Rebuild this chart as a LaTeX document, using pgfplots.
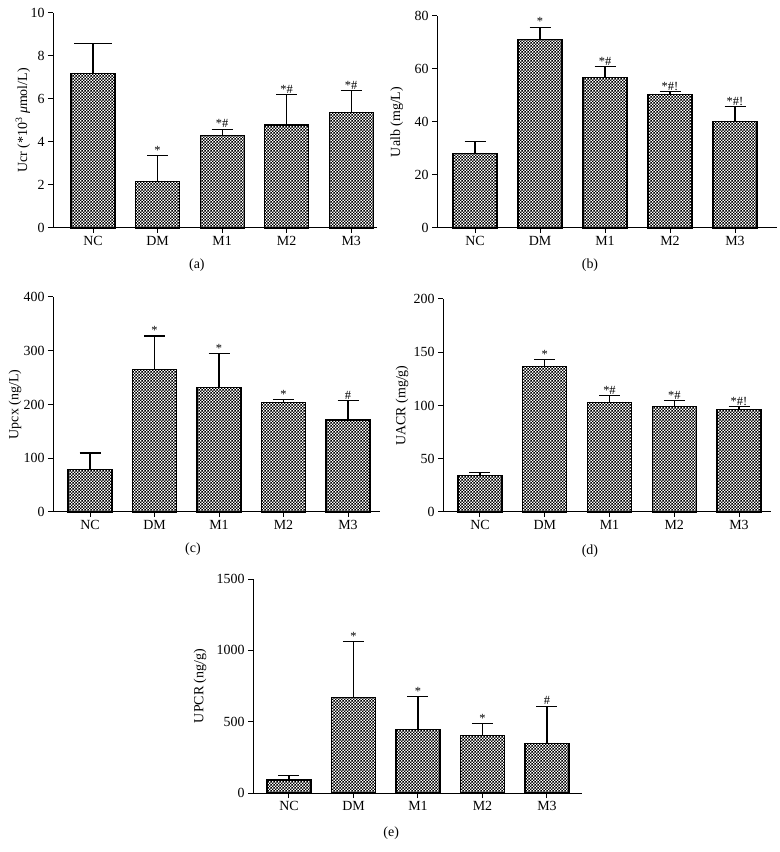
\documentclass[border=0pt]{standalone}
\usepackage{fontspec}
\setmainfont{Liberation Serif}
\usepackage{pgfplots}
\usepackage{pgfplotstable}
\pgfplotsset{compat=1.18}
\usetikzlibrary{patterns}

% fine black/white checkerboard like the original bars
\pgfdeclarepatternformonly{finecheck}{\pgfpointorigin}{\pgfqpoint{3pt}{3pt}}{\pgfqpoint{3pt}{3pt}}{%
  \pgfpathrectangle{\pgfpointorigin}{\pgfqpoint{1.5pt}{1.5pt}}%
  \pgfpathrectangle{\pgfqpoint{1.5pt}{1.5pt}}{\pgfqpoint{1.5pt}{1.5pt}}%
  \pgfusepath{fill}}

% columns: group, mean, upper error, significance mark
\pgfplotstableread{
x y e lab
0 7.18 1.42 -
1 2.17 1.20 *
2 4.29 0.31 *\#
3 4.79 1.43 *\#
4 5.38 1.02 *\#
}\tabA
\pgfplotstableread{
x y e lab
0 28.2 4.6 -
1 71.0 4.8 *
2 56.7 4.1 *\#
3 50.3 1.1 *\#!
4 40.3 5.5 *\#!
}\tabB
\pgfplotstableread{
x y e lab
0 78.8 31.0 -
1 264.8 62.6 *
2 231.3 63.3 *
3 203.4 5.6 *
4 171.2 35.9 \#
}\tabC
\pgfplotstableread{
x y e lab
0 34.2 2.8 -
1 136.7 6.6 *
2 103.1 6.3 *\#
3 99.0 5.5 *\#
4 96.6 2.5 *\#!
}\tabD
\pgfplotstableread{
x y e lab
0 91 33 -
1 669 395 *
2 448 226 *
3 403.5 84 *
4 347.6 261 \#
}\tabE

\tikzset{sublabel/.style={font=\fontsize{14}{16}\selectfont}}

\pgfplotsset{
  panel/.style={
    scale only axis, anchor=south west,
    axis x line=bottom, axis y line=left,
    axis line style={-, line width=1pt, black},
    tick align=outside, major tick length=5bp,
    every tick/.style={line width=1pt, black},
    xtick={0,1,2,3,4}, xticklabels={NC,DM,M1,M2,M3},
    ymin=0,
    tick label style={font=\fontsize{14}{16}\selectfont},
    label style={font=\fontsize{14}{16}\selectfont},
    /pgf/number format/assume math mode=true,
    /pgf/number format/1000 sep={},
    clip=false,
  },
  bars/.style={ybar, bar shift=0pt, bar width=44bp, draw=black, line width=1.1pt,
    pattern=finecheck, pattern color=black,
    error bars/y dir=plus, error bars/y explicit,
    error bars/error bar style={line width=1.1pt, black},
    error bars/error mark options={rotate=90, line width=1.1pt, black, mark size=10.5bp}},
  stars/.style={draw=none, mark=none, nodes near coords, point meta=explicit symbolic,
    skip coords between index={0}{1},
    nodes near coords style={anchor=south, inner sep=1pt, black,
      font=\fontsize{12.5}{12.5}\selectfont}},
}

\begin{document}
\begin{tikzpicture}
\useasboundingbox (0,0) rectangle (780bp,852bp);

% (a)
\begin{axis}[panel, at={(53bp,624bp)}, width=324bp, height=215bp,
  xmin=-0.62, xmax=4.40, ymax=10, ytick={0,2,...,10},
  ylabel={Ucr (*10\textsuperscript{3} \textit{μ}mol/L)},
  ylabel style={at={(axis description cs:-0.093,0.5)}, anchor=center}]
  \addplot[bars, skip coords between index={1}{5},
    error bars/error mark options={rotate=90, line width=1.1pt, black, mark size=19bp}]
    table[x=x, y=y, y error=e] {\tabA};
  \addplot[bars, skip coords between index={0}{1}] table[x=x, y=y, y error=e] {\tabA};
  \addplot[stars] table[x=x, y expr=\thisrow{y}+\thisrow{e}, meta=lab] {\tabA};
  \node[sublabel] at (axis description cs:0.444,-0.172) {(a)};
\end{axis}

% (b)
\begin{axis}[panel, at={(437bp,624bp)}, width=340bp, height=212bp,
  xmin=-0.585, xmax=4.646, ymax=80, ytick={0,20,...,80},
  ylabel={Ualb (mg/L)},
  ylabel style={at={(axis description cs:-0.118,0.5)}, anchor=center}]
  \addplot[bars] table[x=x, y=y, y error=e] {\tabB};
  \addplot[stars] table[x=x, y expr=\thisrow{y}+\thisrow{e}, meta=lab] {\tabB};
  \node[sublabel] at (axis description cs:0.45,-0.175) {(b)};
\end{axis}

% (c)
\begin{axis}[panel, at={(53bp,340bp)}, width=327bp, height=215bp,
  xmin=-0.574, xmax=4.496, ymax=400, ytick={0,100,...,400},
  ylabel={Upcx (ng/L)},
  ylabel style={at={(axis description cs:-0.116,0.5)}, anchor=center}]
  \addplot[bars] table[x=x, y=y, y error=e] {\tabC};
  \addplot[stars] table[x=x, y expr=\thisrow{y}+\thisrow{e}, meta=lab] {\tabC};
  \node[sublabel] at (axis description cs:0.428,-0.172) {(c)};
\end{axis}

% (d)
\begin{axis}[panel, at={(443bp,340bp)}, width=328bp, height=213bp,
  xmin=-0.571, xmax=4.494, ymax=200, ytick={0,50,...,200},
  ylabel={UACR (mg/g)},
  ylabel style={at={(axis description cs:-0.125,0.5)}, anchor=center}]
  \addplot[bars] table[x=x, y=y, y error=e] {\tabD};
  \addplot[stars] table[x=x, y expr=\thisrow{y}+\thisrow{e}, meta=lab] {\tabD};
  \node[sublabel] at (axis description cs:0.448,-0.183) {(d)};
\end{axis}

% (e)
\begin{axis}[panel, at={(253bp,59bp)}, width=329bp, height=214bp,
  xmin=-0.558, xmax=4.543, ymax=1500, ytick={0,500,1000,1500},
  ylabel={UPCR (ng/g)},
  ylabel style={at={(axis description cs:-0.161,0.5)}, anchor=center}]
  \addplot[bars] table[x=x, y=y, y error=e] {\tabE};
  \addplot[stars] table[x=x, y expr=\thisrow{y}+\thisrow{e}, meta=lab] {\tabE};
  \node[sublabel] at (axis description cs:0.42,-0.187) {(e)};
\end{axis}
\end{tikzpicture}
\end{document}
